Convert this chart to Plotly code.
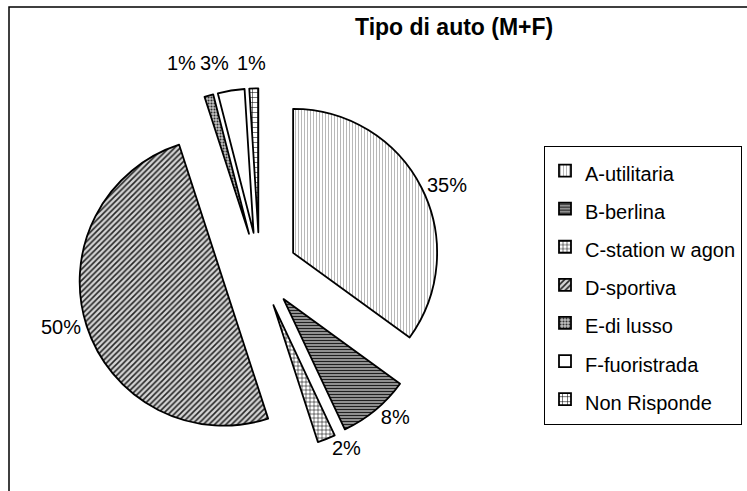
import math
import plotly.graph_objects as go

# Car type shares (M+F), clockwise from 12 o'clock
categories = ["A-utilitaria", "B-berlina", "C-station w agon", "D-sportiva",
              "E-di lusso", "F-fuoristrada", "Non Risponde"]
percentages = [35, 8, 2, 50, 1, 3, 1]

# Fill pattern per slice (greyscale hatching)
pattern_shapes = ["|", "-", "+", "/", ".", "", "+"]
pattern_fg = ["#b8b8b8", "#202020", "#000000", "#262626", "#303030", "#000000", "#000000"]
pattern_bg = ["#ffffff", "#a8a8a8", "#ffffff", "#d4d4d4", "#c4c4c4", "#ffffff", "#ffffff"]
pattern_size = [3, 3, 4, 4, 3, 4, 5]
pattern_solidity = [0.35, 0.45, 0.25, 0.4, 0.4, 0.2, 0.2]

W, H = 747, 491
FONT = "Liberation Sans, Arial, sans-serif"
LABEL_SIZE = 20

# Pie geometry (pixels): centre, radius and explode fraction
CX, CY, R, PULL = 259.5, 270.0, 144.0, 0.262
half = R * (1 + PULL)
dom_x = [(CX - half) / W, (CX + half) / W]
dom_y = [1 - (CY + half) / H, 1 - (CY - half) / H]

# The three thin slices near 12 o'clock share one label row above the pie
top_row = [4, 5, 6]
text_pos = ["none" if i in top_row else "outside" for i in range(len(percentages))]

legend_labels = [f'<span style="font-size:20px">{c}</span>' for c in categories]

fig = go.Figure(go.Pie(
    labels=legend_labels,
    values=percentages,
    sort=False,
    direction="clockwise",
    rotation=0,
    pull=PULL,
    domain=dict(x=dom_x, y=dom_y),
    marker=dict(
        colors=pattern_bg,
        line=dict(color="#000000", width=1.8),
        pattern=dict(shape=pattern_shapes, fgcolor=pattern_fg, bgcolor=pattern_bg,
                     size=pattern_size, solidity=pattern_solidity, fillmode="replace"),
    ),
    textinfo="percent",
    textposition=text_pos,
    textfont=dict(family=FONT, size=LABEL_SIZE, color="#000000"),
    hoverinfo="skip",
))

# Mid-angle of every slice, then the x of its (exploded) outer arc midpoint
total = sum(percentages)
arc_mid_x = []
acc = 0.0
for p in percentages:
    frac = p / total
    mid = (acc + frac / 2) * 2 * math.pi
    acc += frac
    arc_mid_x.append(CX + R * (1 + PULL) * math.sin(mid))

# Row layout: the middle label ends at its slice, neighbours packed either side
label_w = (0.556 + 0.889) * LABEL_SIZE  # Arial advance widths of a digit and "%"
gap = 4
row_y = 63
right_edge = arc_mid_x[top_row[1]]
placements = {
    top_row[0]: (right_edge - label_w - gap, "right"),
    top_row[1]: (right_edge, "right"),
    top_row[2]: (right_edge + gap, "left"),
}

annotations = []
for i, (x, anchor) in placements.items():
    annotations.append(dict(
        text=f"{percentages[i]}%", x=x / W, y=1 - row_y / H, xref="paper", yref="paper",
        xanchor=anchor, yanchor="middle", showarrow=False,
        font=dict(family=FONT, size=LABEL_SIZE, color="#000000"),
    ))

annotations.append(dict(
    text="<b>Tipo di auto (M+F)</b>",
    x=454 / W, y=1 - 27 / H, xref="paper", yref="paper",
    xanchor="center", yanchor="middle", showarrow=False,
    font=dict(family=FONT, size=23, color="#000000"),
))

fig.update_layout(
    width=W, height=H,
    margin=dict(l=0, r=0, t=0, b=0, autoexpand=False),
    paper_bgcolor="#ffffff",
    plot_bgcolor="#ffffff",
    font=dict(family=FONT, color="#000000"),
    showlegend=True,
    legend=dict(
        x=742 / W, xanchor="right",
        y=1 - 285 / H, yanchor="middle",
        bordercolor="#000000", borderwidth=1,
        bgcolor="#ffffff",
        font=dict(family=FONT, size=27, color="#000000"),
        traceorder="normal",
    ),
    annotations=annotations,
    shapes=[dict(
        type="rect", xref="paper", yref="paper",
        x0=9 / W, x1=1.05, y0=-0.05, y1=1 - 7 / H,
        line=dict(color="#000000", width=1.5),
        fillcolor="rgba(0,0,0,0)", layer="above",
    )],
)

fig.write_html("out.html")
